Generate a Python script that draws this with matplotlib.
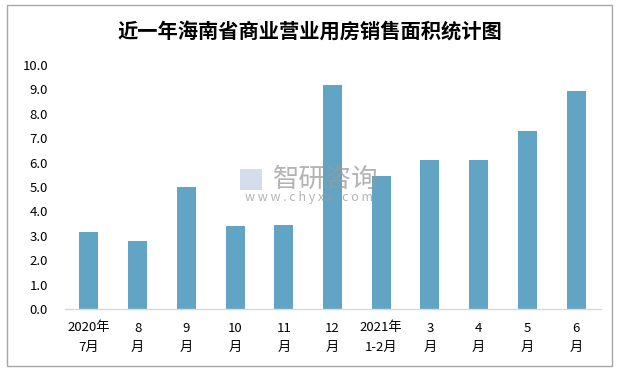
import matplotlib
matplotlib.use("Agg")
import matplotlib.pyplot as plt
from matplotlib.patches import Rectangle

plt.rcParams['font.family'] = ['Noto Sans CJK SC', 'DejaVu Sans']

categories = ["2020年\n7月", "8\n月", "9\n月", "10\n月", "11\n月", "12\n月",
              "2021年\n1-2月", "3\n月", "4\n月", "5\n月", "6\n月"]
values = [3.16, 2.79, 5.0, 3.40, 3.44, 9.18, 5.45, 6.1, 6.1, 7.3, 8.93]
yticks = [0, 1, 2, 3, 4, 5, 6, 7, 8, 9, 10]
title = "近一年海南省商业营业用房销售面积统计图"

W, H = 619, 371
fig = plt.figure(figsize=(W / 100, H / 100), dpi=100)

# outer border
fig.patches.append(Rectangle((7 / W, 5 / H), (612 - 7) / W, (366 - 5) / H,
                             transform=fig.transFigure, fill=False,
                             edgecolor='#A6A6A6', linewidth=1.0))

ax = fig.add_axes([64.6 / W, 1 - 309 / H, (600.5 - 64.6) / W, (309 - 65) / H])
x = list(range(len(categories)))
ax.bar(x, values, width=0.39, color='#62A4C3', zorder=2)
ax.set_xlim(-0.5, len(categories) - 0.5)
ax.set_ylim(0, 10)
ax.set_yticks(yticks)
ax.set_yticklabels([f"{v:.1f}" for v in yticks], fontsize=9.5, color='#000000')
ax.set_xticks(x)
ax.set_xticklabels(categories, fontsize=9.5, linespacing=1.6)
ax.tick_params(axis='both', length=0)
ax.tick_params(axis='x', pad=9)
ax.tick_params(axis='y', pad=12)
for s in ['top', 'right', 'left']:
    ax.spines[s].set_visible(False)
ax.spines['bottom'].set_color('#D9D9D9')
ax.spines['bottom'].set_linewidth(1.0)

fig.text(310 / W, 1 - 31 / H, title, ha='center', va='center',
         fontsize=14.6, fontweight='bold', color='#000000')

# watermark
fig.text(326 / W, 1 - 179 / H, "智研咨询", ha='center', va='center',
         fontsize=19, color='#9A9A9A', alpha=0.75, zorder=5)
fig.text(309 / W, 1 - 198 / H, "w w w . c h y x x . c o m", ha='center', va='center',
         fontsize=9, color='#9A9A9A', alpha=0.75, zorder=5)
fig.patches.append(Rectangle((240 / W, 1 - 190 / H), 22 / W, 21 / H,
                             transform=fig.transFigure, fill=True,
                             facecolor='#B8C7E0', alpha=0.6, edgecolor='none'))

fig.savefig("out.png", dpi=100)
